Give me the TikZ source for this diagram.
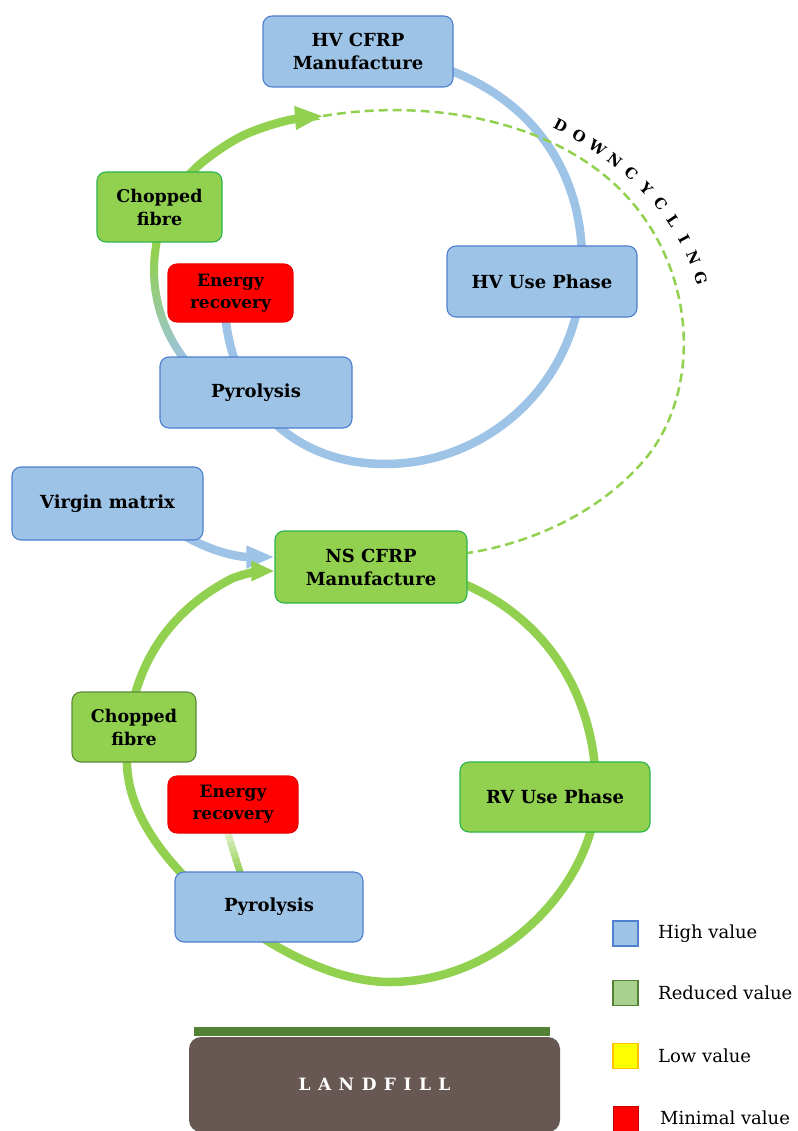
\documentclass[tikz,border=0pt]{standalone}
\usepackage{fontspec}
\setmainfont{DejaVu Serif}
\usetikzlibrary{arrows.meta,calc,backgrounds}
\definecolor{hvfill}{HTML}{9DC3E6}
\definecolor{hvline}{HTML}{4F7FCF}
\definecolor{gfill}{HTML}{92D050}
\definecolor{gline}{HTML}{2DB34A}
\definecolor{oline}{HTML}{5B8A3A}
\definecolor{erfill}{HTML}{FF0000}
\definecolor{lfill}{HTML}{685853}
\definecolor{lbar}{HTML}{538135}
\definecolor{arcb}{HTML}{9DC3E6}
\definecolor{arcg}{HTML}{92D050}
\colorlet{arcgl}{arcg!30!white}
\definecolor{redval}{HTML}{A9D18E}
\definecolor{redline}{HTML}{548235}
\definecolor{lowfill}{HTML}{FFFF00}
\definecolor{lowline}{HTML}{FFC000}
\definecolor{minline}{HTML}{C00000}
\begin{document}
\begin{tikzpicture}[x=1pt,y=-1pt,
  box/.style={rounded corners=9pt, line width=1.1pt, align=center, inner sep=0pt,
     font=\bfseries\fontsize{18}{23}\selectfont},
  hvbox/.style={box, fill=hvfill, draw=hvline},
  gbox/.style={box, fill=gfill, draw=gline},
  cfbox/.style={gbox, font=\bfseries\fontsize{17.5}{23}\selectfont},
  erbox/.style={box, fill=erfill, draw=erfill!92!black, font=\bfseries\fontsize{17}{22}\selectfont},
  loopline/.style={line width=8.5pt},
  legbox/.style={minimum size=25pt, inner sep=0pt, line width=1.1pt},
  legtext/.style={anchor=west, inner sep=0pt, font=\fontsize{18}{20}\selectfont},
  dl/.style={sloped, anchor=south, inner sep=0pt, font=\bfseries\fontsize{15}{15}\selectfont},
  ]
\useasboundingbox (0,0) rectangle (797,1131);

% nodes
\node[hvbox, minimum width=190pt, minimum height=71pt] (hvm) at (358,51.5) {HV CFRP\\Manufacture};
\node[cfbox, minimum width=125pt, minimum height=70pt] (cft) at (159.5,207) {Chopped\\fibre};
\node[erbox, minimum width=125pt, minimum height=58pt] (ert) at (230.5,293) {Energy\\recovery};
\node[hvbox, minimum width=190pt, minimum height=71pt] (hvu) at (542,281.5) {HV Use Phase};
\node[hvbox, minimum width=192pt, minimum height=71pt] (pyt) at (256,392.5) {Pyrolysis};
\node[hvbox, minimum width=191pt, minimum height=73pt] (vm) at (107.5,503.5) {Virgin matrix};
\node[gbox, minimum width=192pt, minimum height=72pt] (ns) at (371,567) {NS CFRP\\Manufacture};
\node[cfbox, draw=oline, minimum width=124pt, minimum height=70pt] (cfb) at (134,727) {Chopped\\fibre};
\node[erbox, minimum width=130pt, minimum height=57pt] (erb) at (233,804.5) {Energy\\recovery};
\node[gbox, minimum width=190pt, minimum height=70pt] (rv) at (555,797) {RV Use Phase};
\node[hvbox, minimum width=188pt, minimum height=70pt] (pyb) at (269,907) {Pyrolysis};

% landfill
\node[fill=lbar, minimum width=356pt, minimum height=9pt, inner sep=0pt] (bar) at (372,1031.5) {};
\node[fill=lfill, rounded corners=12pt, minimum width=371pt, minimum height=95pt, inner sep=0pt,
      text=white, font=\bfseries\fontsize{17}{18}\selectfont] (lf) at (374.5,1084.5)
      {L\hspace{7.5pt}A\hspace{7.5pt}N\hspace{7.5pt}D\hspace{7.5pt}F\hspace{7.5pt}I\hspace{7.5pt}L\hspace{7.5pt}L};

% legend
\node[legbox, fill=hvfill, draw=hvline] (lg1) at (625.5,933.5) {};
\node[legtext] (lt1) at (658,933.5) {High value};
\node[legbox, fill=redval, draw=redline] (lg2) at (625.5,993) {};
\node[legtext] (lt2) at (658,992.5) {Reduced value};
\node[legbox, fill=lowfill, draw=lowline] (lg3) at (625.5,1056) {};
\node[legtext] (lt3) at (658,1056) {Low value};
\node[legbox, fill=erfill, draw=minline] (lg4) at (626,1119) {};
\node[legtext] (lt4) at (660,1118) {Minimal value};

\coordinate (dc) at (323,116);
\coordinate (cc) at (300,270);

% DOWNCYCLING label
\path (558,131) .. controls (620,163) and (675,212) .. (695,280)
  node[dl, pos=0] {D} node[dl, pos=0.1] {O} node[dl, pos=0.2] {W} node[dl, pos=0.3] {N}
  node[dl, pos=0.4] {C} node[dl, pos=0.5] {Y} node[dl, pos=0.6] {C} node[dl, pos=0.7] {L}
  node[dl, pos=0.8] {I} node[dl, pos=0.9] {N} node[dl, pos=1] {G};

\begin{scope}[on background layer]
% top blue loop
\draw[loopline, arcb] ($(hvm.east)+(-6,18)$) .. controls (530,100) and (585,170) .. (582,270)
   .. controls (580,380) and (490,464) .. (385,464)
   .. controls (300,464) and (236,410) .. ($(ert.south)+(-5,-4)$);
% gradient left arc (pyrolysis -> chopped fibre)
\foreach \a in {140,142.5,...,192.5} {
  \pgfmathsetmacro\p{min(100,(\a-140)/45*100)}
  \draw[line width=8pt, color=arcg!\p!arcb] ($(cc)+(\a:146)$) arc[start angle=\a, end angle=\a+2.8, radius=146];
}
% chopped fibre -> arrow
\draw[loopline, arcg, -{Triangle[length=28pt,width=22pt]}] plot[smooth, tension=0.55] coordinates {($(cc)+(195.3:146)$) (172,198) (198,166) (240,137) (285,121) (dc)};
% downcycling dashed
\draw[line width=2.5pt, arcg, dash pattern=on 9pt off 5pt] (dc) .. controls (430,98) and (560,120) .. (630,200)
   .. controls (700,280) and (700,400) .. (640,465)
   .. controls (590,520) and (520,545) .. ($(ns.east)+(0,-14)$);
% virgin matrix arrow
\draw[loopline, arcb, -{Triangle[length=28pt,width=21pt]}] ($(vm.south east)+(-18,-4)$) .. controls (215,553) and (240,557) .. ($(ns.west)+(0,-10)$);
% bottom green loop
\draw[loopline, arcg, -{Triangle[length=23pt,width=19pt]}] ($(ns.east)+(-6,16)$)
   .. controls (540,615) and (598,690) .. (596,797)
   .. controls (594,880) and (505,982) .. (390,982)
   .. controls (320,982) and (240,930) .. (183,875)
   .. controls (150,840) and (125,800) .. (127,755)
   .. controls (127,680) and (160,615) .. (233,578)
   .. controls (250,572) and (262,571) .. ($(ns.west)+(0,4)$);
% energy recovery -> pyrolysis (bottom), gradient
\coordinate (ea) at ($(erb.south)+(-6,-3)$);
\coordinate (eb) at ($(pyb.north)+(-28,4)$);
\foreach \i in {0,...,7} {
  \pgfmathsetmacro\t{\i/8}
  \pgfmathsetmacro\u{(\i+1)/8+0.03}
  \pgfmathsetmacro\p{\i/7*100}
  \draw[line width=7pt, color=arcg!\p!arcgl] ($(ea)!\t!(eb)$) -- ($(ea)!\u!(eb)$);
}
\end{scope}
\end{tikzpicture}
\end{document}
